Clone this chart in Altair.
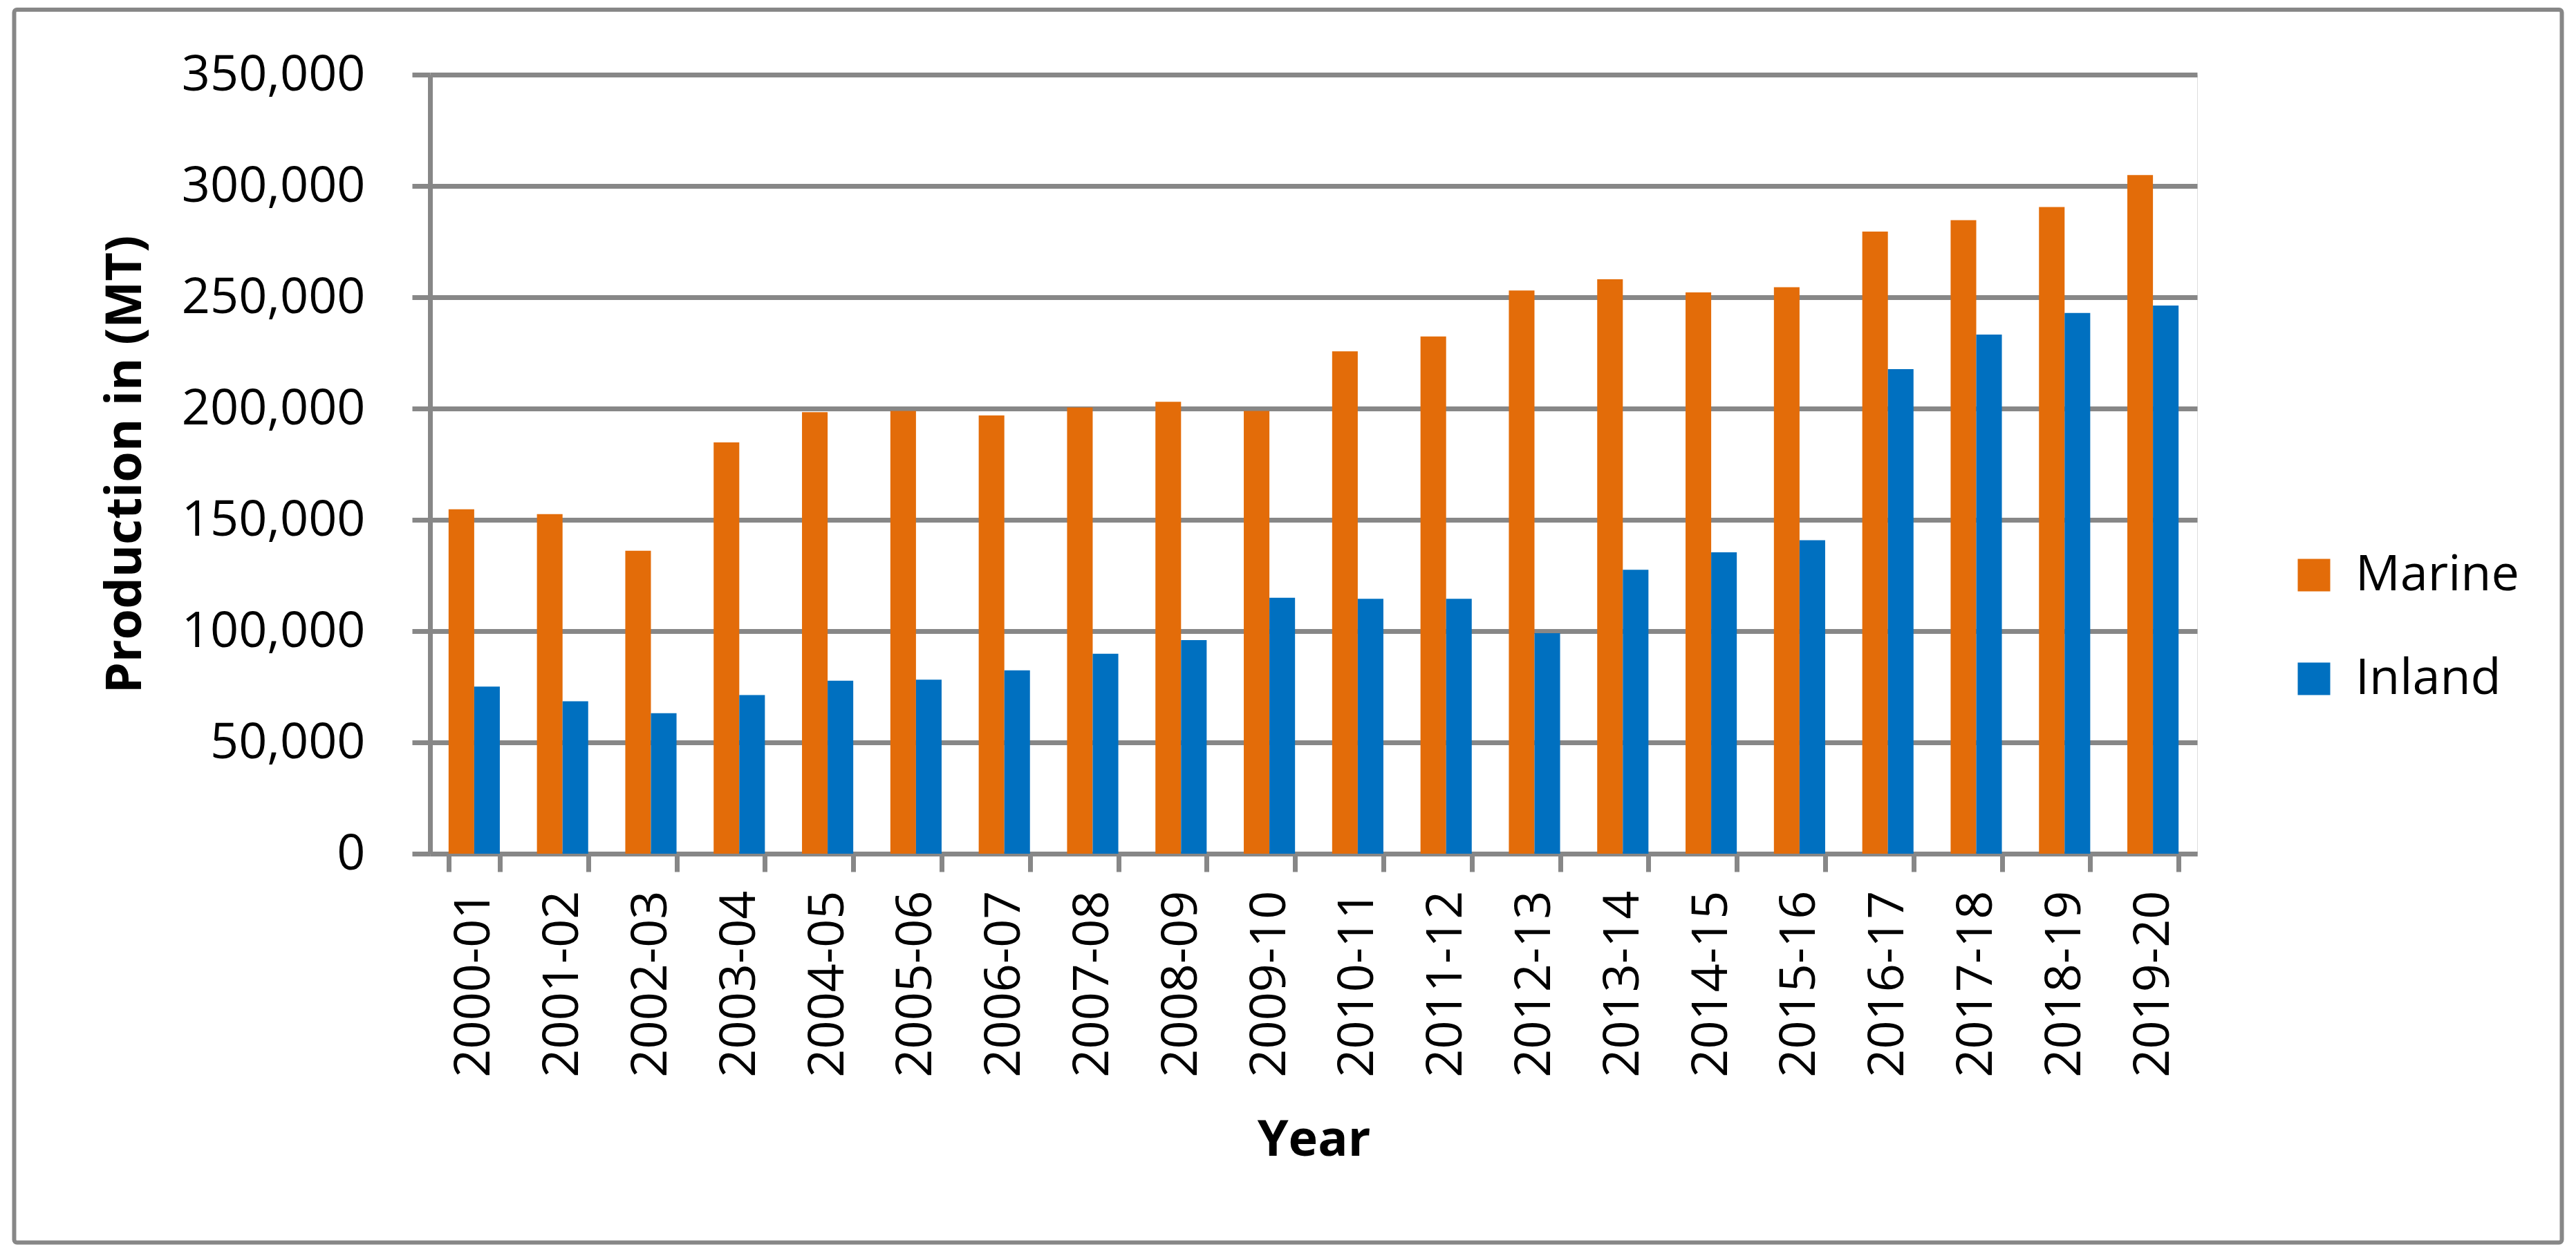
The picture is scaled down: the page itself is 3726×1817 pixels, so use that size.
import altair as alt
import pandas as pd

years = ["2000-01", "2001-02", "2002-03", "2003-04", "2004-05", "2005-06", "2006-07",
         "2007-08", "2008-09", "2009-10", "2010-11", "2011-12", "2012-13", "2013-14",
         "2014-15", "2015-16", "2016-17", "2017-18", "2018-19", "2019-20"]
marine = [154700, 152600, 136100, 184800, 198400, 198900, 196900, 200500, 203000, 198900,
          225700, 232400, 253000, 258100, 252200, 254500, 279500, 284600, 290500, 304900]
inland = [75100, 68500, 63100, 71300, 77700, 78200, 82400, 89800, 96000, 115000,
          114500, 114500, 99100, 127600, 135400, 140800, 217700, 233200, 242900, 246300]
series = ["Marine", "Inland"]
colors = ["#E36C09", "#0070C0"]
y_ticks = [0, 50000, 100000, 150000, 200000, 250000, 300000, 350000]

rows = []
for i, yr in enumerate(years):
    rows.append({"Year": yr, "Series": "Marine", "Production": marine[i]})
    rows.append({"Year": yr, "Series": "Inland", "Production": inland[i]})
df = pd.DataFrame(rows)

GRAY = "#878787"
FONT = "Open Sans"
W, H = 2556, 1127

bars = alt.Chart(df).mark_bar().encode(
    x=alt.X("Year:N", sort=years, title="Year",
            scale=alt.Scale(paddingInner=0.42, paddingOuter=0.21),
            axis=alt.Axis(labelAngle=270, labelAlign="right", labelBaseline="middle",
                          labelPadding=27, labelFontSize=72, labelFont=FONT,
                          labelColor="black", labelLimit=800,
                          domainColor=GRAY, domainWidth=7,
                          tickColor=GRAY, tickWidth=7, tickSize=26, tickBand="extent",
                          titleFont=FONT, titleFontSize=72, titleFontWeight="bold",
                          titleColor="black", titleX=W / 2, titleY=436,
                          titleBaseline="alphabetic", titleAlign="center")),
    xOffset=alt.XOffset("Series:N", sort=series),
    y=alt.Y("Production:Q", title="Production in (MT)",
            scale=alt.Scale(domain=[0, 350000], nice=False),
            axis=alt.Axis(values=y_ticks, format=",d",
                          labelPadding=68, labelFontSize=72, labelFont=FONT,
                          labelColor="black", labelLimit=800,
                          domainColor=GRAY, domainWidth=7,
                          tickColor=GRAY, tickWidth=7, tickSize=26,
                          gridColor=GRAY, gridWidth=7,
                          titleFont=FONT, titleFontSize=72, titleFontWeight="bold",
                          titleColor="black", titleX=-419, titleY=H / 2,
                          titleBaseline="alphabetic", titleAlign="center", titleAngle=270)),
    color=alt.Color("Series:N", sort=series,
                    scale=alt.Scale(domain=series, range=colors),
                    legend=alt.Legend(title=None, orient="none", legendX=2689, legendY=688,
                                      symbolType="square", symbolSize=2209,
                                      symbolStrokeWidth=0, symbolOpacity=1,
                                      labelFontSize=72, labelFont=FONT, labelColor="black",
                                      labelOffset=24, labelLimit=800, rowPadding=78,
                                      padding=0)),
)

border = alt.Chart(pd.DataFrame({"a": [0]})).mark_rect(
    fillOpacity=0, stroke=GRAY, strokeWidth=6, cornerRadius=4
).encode(x=alt.value(-601.5), x2=alt.value(3083.5), y=alt.value(-94), y2=alt.value(1689.5))

chart = alt.layer(border, bars).properties(
    width=W, height=H,
    autosize=alt.AutoSizeParams(type="none"),
    padding={"left": 614, "top": 100, "right": 536, "bottom": 570},
).configure_view(strokeWidth=0).configure(background="white")

chart.save("out.html", embed_options={"renderer": "svg", "actions": False})
